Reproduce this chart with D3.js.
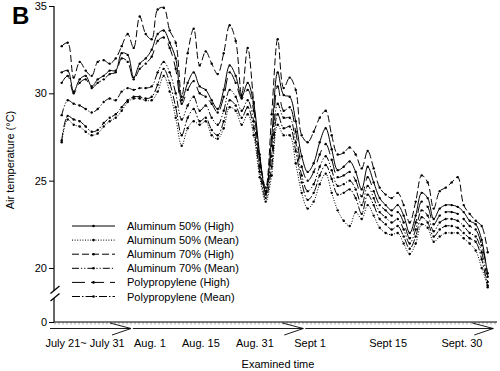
<!DOCTYPE html>
<html><head><meta charset="utf-8">
<script src="https://cdn.jsdelivr.net/npm/d3@7"></script>
<style>body{margin:0;background:#fff} svg{display:block} text{font-family:"Liberation Sans",Arial,sans-serif;fill:#000}</style>
</head><body><svg id="c" width="500" height="371"></svg>
<script>
// ---- data (day index 0 = July 21 ... 71 = Sept 30) ----
const dayIndex = d3.range(72);
const al50High = [31.2,31.3,30.1,30.8,31.0,30.4,30.8,31.0,31.3,31.3,32.3,32.2,30.9,31.7,32.0,32.5,33.4,33.6,32.9,32.0,29.6,30.6,31.2,30.4,30.2,29.6,29.1,30.2,31.6,31.0,29.8,30.6,29.4,26.5,24.3,27.5,31.2,29.9,29.8,28.4,26.4,25.5,26.0,27.2,28.0,26.8,25.6,25.8,26.1,25.5,24.5,25.8,24.9,24.0,23.6,23.3,23.6,23.0,22.0,23.0,24.3,24.0,22.8,23.4,23.6,23.6,23.5,23.2,22.7,22.5,21.6,19.5];
const al50Mean = [27.2,28.5,28.2,28.1,27.8,27.6,27.7,28.1,28.4,28.6,29.0,29.5,29.7,29.7,29.6,29.6,30.1,31.0,30.1,28.6,27.0,28.0,28.4,28.2,28.4,27.6,27.4,28.0,29.2,29.0,28.2,28.8,27.6,25.2,23.8,25.3,28.2,27.6,27.6,26.0,24.3,23.4,23.8,24.8,25.4,24.3,23.3,22.7,22.4,23.2,22.8,23.6,23.0,22.3,22.0,21.9,22.0,21.4,20.8,21.4,22.5,22.3,21.5,21.8,22.0,22.0,22.0,21.7,21.4,21.0,20.0,19.0];
const al70High = [32.7,32.9,30.9,31.8,31.3,31.0,31.8,31.9,31.7,32.0,32.7,33.4,32.6,34.4,33.4,33.1,34.8,34.9,33.6,32.9,29.8,32.3,33.7,31.6,32.4,31.7,31.1,32.3,33.9,33.0,29.9,32.6,29.5,26.3,24.6,28.8,33.1,30.3,30.9,30.2,27.6,27.2,27.8,28.6,29.0,27.6,26.5,26.6,26.9,26.5,25.7,26.7,25.7,24.6,24.2,24.0,24.3,23.6,22.6,23.8,25.3,24.9,23.4,24.4,24.6,24.9,25.2,23.6,23.1,22.7,22.4,20.9];
const al70Mean = [28.75,29.6,29.4,29.3,29.1,28.9,29.1,29.5,29.7,29.6,30.1,30.3,30.2,30.3,30.3,30.4,31.2,31.8,31.2,30.0,28.5,29.3,29.8,29.0,29.3,28.6,28.2,29.0,30.2,29.8,29.0,29.6,28.4,25.8,24.2,26.4,29.4,28.6,28.6,27.2,25.3,24.4,24.8,25.8,26.4,25.6,24.7,24.8,25.0,24.5,23.6,24.7,24.0,23.2,22.9,22.6,22.8,22.2,21.4,22.2,23.3,23.0,22.1,22.6,22.8,22.8,22.7,22.4,22.0,21.8,20.9,19.2];
const ppHigh = [30.6,31.0,30.0,30.6,30.8,30.3,30.6,30.8,31.1,31.2,32.0,31.8,30.8,31.4,31.7,32.1,33.0,33.2,32.6,31.4,29.4,30.2,30.7,30.0,29.8,29.4,28.9,29.8,31.2,30.6,29.7,30.2,29.0,26.2,24.4,27.0,30.4,29.0,29.2,27.8,25.8,25.0,25.5,26.5,27.1,26.2,25.2,25.3,25.5,25.0,24.1,25.2,24.4,23.6,23.3,23.0,23.2,22.6,21.7,22.6,23.8,23.5,22.5,23.0,23.2,23.2,23.1,22.8,22.4,22.2,21.3,19.7];
const ppMean = [27.3,28.7,28.5,28.4,28.1,27.8,27.9,28.3,28.6,28.8,29.2,29.6,29.8,29.8,29.7,29.8,30.5,31.4,30.6,29.2,27.6,28.6,29.1,28.4,28.6,27.9,27.6,28.4,29.6,29.3,28.6,29.2,28.0,25.5,24.0,25.8,28.8,28.0,28.1,26.7,24.9,23.9,24.3,25.3,25.9,25.1,24.2,24.3,24.5,24.0,23.1,24.2,23.6,22.8,22.5,22.2,22.4,21.8,21.1,21.8,22.9,22.6,21.8,22.2,22.4,22.4,22.3,22.0,21.7,21.5,20.5,18.9];
const seriesNames = ["Aluminum 50% (High)","Aluminum 50% (Mean)","Aluminum 70% (High)","Aluminum 70% (Mean)","Polypropylene (High)","Polypropylene (Mean)"];
const seriesValues = [al50High, al50Mean, al70High, al70Mean, ppHigh, ppMean];
const yTickValues = [35,30,25,20,0];
const xLabels = ["July 21~ July 31","Aug. 1","Aug. 15","Aug. 31","Sept 1","Sept 15","Sept. 30"];
const xLabelAt = [3.9,14.7,23.2,32.2,41.4,54.4,66.7];
const periodStart = [-1.95,11.85,40.6];
const periodEnd = [11.55,40.27,71.93];

// ---- styles ----
const dashes = [null,"1,1.6","7,3","7,2,1.2,2,1.2,2","13,6","8,2,1.5,2"];

const svg = d3.select("#c");
const x = d3.scaleLinear().domain([0,71]).range([61.7,487.7]);
const y = d3.scaleLinear().domain([0,18,35]).range([322,302.9,6]);

// y axis
const yAxis = d3.axisLeft(y).tickValues(yTickValues).tickSize(5).tickPadding(2);
const gy = svg.append("g").attr("transform","translate(54,0)").call(yAxis);
gy.select(".domain").remove();
gy.selectAll("line").attr("stroke","#000");
gy.selectAll("text").attr("font-size","11px").attr("font-family","Liberation Sans, Arial, sans-serif").attr("fill","#000");
svg.append("line").attr("x1",54).attr("x2",54).attr("y1",y(35)).attr("y2",y(0)).attr("stroke","#000").attr("stroke-width",1.2);
// break marks
const yb = y(18.65);
svg.append("path").attr("d",`M50.5,${yb+2} L59.5,${yb-5} L59.5,${yb+2.5} L50.5,${yb+9.5} Z`).attr("fill","#fff");
svg.append("line").attr("x1",50.5).attr("y1",yb+2).attr("x2",59.5).attr("y2",yb-5.5).attr("stroke","#000").attr("stroke-width",1.3);
svg.append("line").attr("x1",50.5).attr("y1",yb+9.5).attr("x2",59.5).attr("y2",yb+2).attr("stroke","#000").attr("stroke-width",1.3);

// x axis with minor ticks
const xAxis = d3.axisBottom(x).tickValues(d3.range(-1.2,72.6,2/3)).tickSize(2.5).tickFormat("");
const gx = svg.append("g").attr("transform",`translate(0,${y(0)})`).call(xAxis);
gx.select(".domain").remove();
gx.selectAll("line").attr("stroke","#444").attr("stroke-width",0.5);
svg.append("line").attr("x1",54).attr("x2",497).attr("y1",y(0)).attr("y2",y(0)).attr("stroke","#000").attr("stroke-width",1.2);

// period arrows
const ay = 328.5;
periodStart.forEach((s,k)=>{
  const xs = x(s), xe = x(periodEnd[k]);
  svg.append("line").attr("x1",xs).attr("x2",xe).attr("y1",ay).attr("y2",ay).attr("stroke","#000").attr("stroke-width",0.9);
  svg.append("path").attr("d",`M${xe-21},${ay-5.5} L${xe},${ay} L${xe-19},${ay+6.5}`).attr("fill","none").attr("stroke","#000").attr("stroke-width",0.9);
});

// x labels
svg.selectAll("text.xl").data(xLabels).enter().append("text").attr("class","xl")
  .attr("x",(d,i)=>x(xLabelAt[i])).attr("y",347).attr("text-anchor","middle").attr("font-size","11px").text(d=>d);
svg.append("text").attr("x",278).attr("y",368).attr("text-anchor","middle").attr("font-size","11px").text("Examined time");
svg.append("text").attr("transform","translate(14,160) rotate(-90)").attr("text-anchor","middle").attr("font-size","11px").text("Air temperature (°C)");
svg.append("text").attr("x",12).attr("y",23.5).attr("font-size","24px").attr("font-weight","bold").text("B");

// lines
const line = d3.line().x((d,i)=>x(dayIndex[i])).y(d=>y(d)).curve(d3.curveCatmullRom.alpha(0.5));
seriesValues.forEach((vals,k)=>{
  svg.append("path").attr("d",line(vals)).attr("fill","none").attr("stroke","#000").attr("stroke-width",1)
    .attr("stroke-dasharray",dashes[k]);
  svg.append("g").selectAll("circle").data(vals).enter().append("circle")
    .attr("cx",(d,i)=>x(dayIndex[i])).attr("cy",d=>y(d)).attr("r",1.2).attr("fill","#000");
});

// legend
seriesNames.forEach((name,k)=>{
  const cy = 226 + k*14.1;
  svg.append("line").attr("x1",72).attr("x2",115).attr("y1",cy).attr("y2",cy).attr("stroke","#000").attr("stroke-width",1)
    .attr("stroke-dasharray",dashes[k]);
  svg.append("circle").attr("cx",93.5).attr("cy",cy).attr("r",1.3).attr("fill","#000");
  svg.append("text").attr("x",127).attr("y",cy+4).attr("font-size","11px").text(name);
});
</script></body></html>
